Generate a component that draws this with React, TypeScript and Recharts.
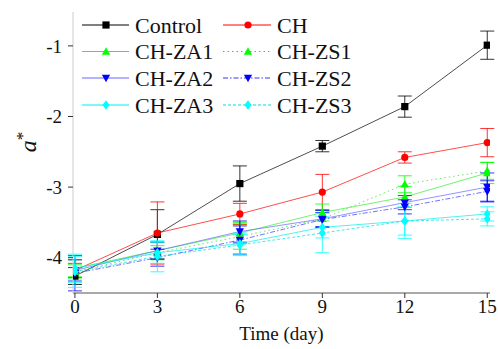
import React from "react";
import { LineChart, Line, XAxis, YAxis, ErrorBar, Label } from "recharts";

const days = [0, 3, 6, 9, 12, 15];
const yTicks = [-4, -3, -2, -1];

const control = [-4.26, -3.67, -2.95, -2.42, -1.86, -0.99];
const controlErr = [0.12, 0.35, 0.25, 0.08, 0.15, 0.2];
const ch = [-4.18, -3.65, -3.38, -3.07, -2.58, -2.37];
const chErr = [0.1, 0.44, 0.15, 0.25, 0.08, 0.2];
const za1 = [-4.15, -3.9, -3.65, -3.36, -3.14, -2.8];
const za1Err = [0.12, 0.12, 0.15, 0.12, 0.15, 0.15];
const zs1 = [-4.2, -3.93, -3.7, -3.45, -2.96, -2.77];
const zs1Err = [0.1, 0.1, 0.18, 0.12, 0.12, 0.12];
const za2 = [-4.18, -3.9, -3.63, -3.45, -3.22, -3.0];
const za2Err = [0.15, 0.12, 0.15, 0.12, 0.1, 0.2];
const zs2 = [-4.22, -4.0, -3.75, -3.46, -3.28, -3.06];
const zs2Err = [0.25, 0.12, 0.2, 0.1, 0.1, 0.15];
const za3 = [-4.15, -3.93, -3.8, -3.57, -3.48, -3.38];
const za3Err = [0.2, 0.15, 0.15, 0.15, 0.25, 0.1];
const zs3 = [-4.2, -3.98, -3.82, -3.65, -3.48, -3.45];
const zs3Err = [0.22, 0.22, 0.15, 0.28, 0.2, 0.1];

type Shape = "square" | "circle" | "up" | "down" | "diamond";

const seriesDefs: {
  key: string;
  name: string;
  color: string;
  lineColor: string;
  shape: Shape;
  dash?: string;
  values: number[];
  errors: number[];
}[] = [
  { key: "control", name: "Control", color: "#000000", lineColor: "#000000", shape: "square", values: control, errors: controlErr },
  { key: "ch", name: "CH", color: "#ff0000", lineColor: "#ff0000", shape: "circle", values: ch, errors: chErr },
  { key: "za1", name: "CH-ZA1", color: "#00ff00", lineColor: "#33ee33", shape: "up", values: za1, errors: za1Err },
  { key: "zs1", name: "CH-ZS1", color: "#00ff00", lineColor: "#22dd22", shape: "up", dash: "1.5 3", values: zs1, errors: zs1Err },
  { key: "za2", name: "CH-ZA2", color: "#0000ff", lineColor: "#6666ff", shape: "down", values: za2, errors: za2Err },
  { key: "zs2", name: "CH-ZS2", color: "#0000ff", lineColor: "#3333ff", shape: "down", dash: "5 2 1.5 2", values: zs2, errors: zs2Err },
  { key: "za3", name: "CH-ZA3", color: "#00ffff", lineColor: "#00eeee", shape: "diamond", values: za3, errors: za3Err },
  { key: "zs3", name: "CH-ZS3", color: "#00ffff", lineColor: "#00dddd", shape: "diamond", dash: "3 2", values: zs3, errors: zs3Err },
];

const data = days.map((d, i) => {
  const row: Record<string, number> = { day: d };
  seriesDefs.forEach((s) => {
    row[s.key] = s.values[i];
    row[s.key + "Err"] = s.errors[i];
  });
  return row;
});

function Marker({ shape, cx, cy, color }: { shape: Shape; cx: number; cy: number; color: string }) {
  const s = 3.6;
  if (cx == null || cy == null || isNaN(cx) || isNaN(cy)) return null;
  switch (shape) {
    case "square":
      return <rect x={cx - s} y={cy - s} width={2 * s} height={2 * s} fill={color} />;
    case "circle":
      return <circle cx={cx} cy={cy} r={s} fill={color} />;
    case "up":
      return (
        <polygon
          points={`${cx},${cy - s * 1.2} ${cx - s * 1.15},${cy + s * 0.9} ${cx + s * 1.15},${cy + s * 0.9}`}
          fill={color}
        />
      );
    case "down":
      return (
        <polygon
          points={`${cx},${cy + s * 1.2} ${cx - s * 1.15},${cy - s * 0.9} ${cx + s * 1.15},${cy - s * 0.9}`}
          fill={color}
        />
      );
    case "diamond":
      return (
        <polygon
          points={`${cx},${cy - s * 1.3} ${cx + s},${cy} ${cx},${cy + s * 1.3} ${cx - s},${cy}`}
          fill={color}
        />
      );
  }
  return null;
}

const FONT = "Liberation Serif";

function LegendOverlay() {
  const rowY = [25, 51.5, 78, 105];
  const cols = [
    { lx1: 82, lx2: 129, mx: 106, tx: 135 },
    { lx1: 223, lx2: 271, mx: 248, tx: 277 },
  ];
  return (
    <svg
      width={498}
      height={130}
      style={{ position: "absolute", left: 0, top: 0, pointerEvents: "none" }}
    >
      {seriesDefs.map((s, i) => {
        const col = cols[i % 2];
        const y = rowY[Math.floor(i / 2)];
        return (
          <g key={s.key}>
            <line
              x1={col.lx1}
              x2={col.lx2}
              y1={y}
              y2={y}
              stroke={s.lineColor}
              strokeWidth={1}
              strokeDasharray={s.dash}
            />
            <Marker shape={s.shape} cx={col.mx} cy={y} color={s.color} />
            <text x={col.tx} y={y + 7.5} fontFamily={FONT} fontSize={22} fill="#111">
              {s.name}
            </text>
          </g>
        );
      })}
    </svg>
  );
}

export default function App() {
  return (
    <div style={{ position: "absolute", left: 0, top: 0, width: 498, height: 349, background: "#fff" }}>
      <LineChart width={498} height={349} data={data} margin={{ top: 12, right: 8, bottom: 0, left: 0 }}>
        <XAxis
          dataKey="day"
          type="number"
          domain={[-0.07, 15.1]}
          ticks={days}
          allowDataOverflow
          height={56}
          tickSize={5}
          tickMargin={2}
          axisLine={{ stroke: "#555555", strokeWidth: 1 }}
          tickLine={{ stroke: "#333333", strokeWidth: 1 }}
          tick={{ fontSize: 19, fontFamily: FONT, fill: "#111" }}
        >
          <Label
            value="Time (day)"
            position="insideBottom"
            offset={9}
            style={{ fontSize: 19, fontFamily: FONT, fill: "#111" }}
          />
        </XAxis>
        <YAxis
          type="number"
          domain={[-4.5, -0.52]}
          ticks={yTicks}
          allowDataOverflow
          width={73}
          tickSize={5}
          tickMargin={6}
          axisLine={{ stroke: "#cccccc", strokeWidth: 1 }}
          tickLine={{ stroke: "#333333", strokeWidth: 1 }}
          tick={{ fontSize: 19, fontFamily: FONT, fill: "#111" }}
        >
          <Label
            content={() => (
              <text
                x={0}
                y={0}
                transform="translate(36,142) rotate(-90)"
                textAnchor="middle"
                fontFamily={FONT}
                fontSize={24}
                fill="#111"
              >
                <tspan fontStyle="italic">a</tspan>
                <tspan fontSize={17} dy={-8}>*</tspan>
              </text>
            )}
          />
        </YAxis>
        {seriesDefs.map((s) => (
          <Line
            key={s.key}
            dataKey={s.key}
            name={s.name}
            type="linear"
            stroke={s.lineColor}
            strokeWidth={0.7}
            strokeDasharray={s.dash}
            isAnimationActive={false}
            dot={(p: any) => (
              <Marker key={`${s.key}-${p.index}`} shape={s.shape} cx={p.cx} cy={p.cy} color={s.color} />
            )}
            activeDot={false}
          >
            <ErrorBar
              dataKey={s.key + "Err"}
              width={7}
              stroke={s.color}
              strokeWidth={0.8}
              direction="y"
              isAnimationActive={false}
            />
          </Line>
        ))}
      </LineChart>
      <LegendOverlay />
    </div>
  );
}
